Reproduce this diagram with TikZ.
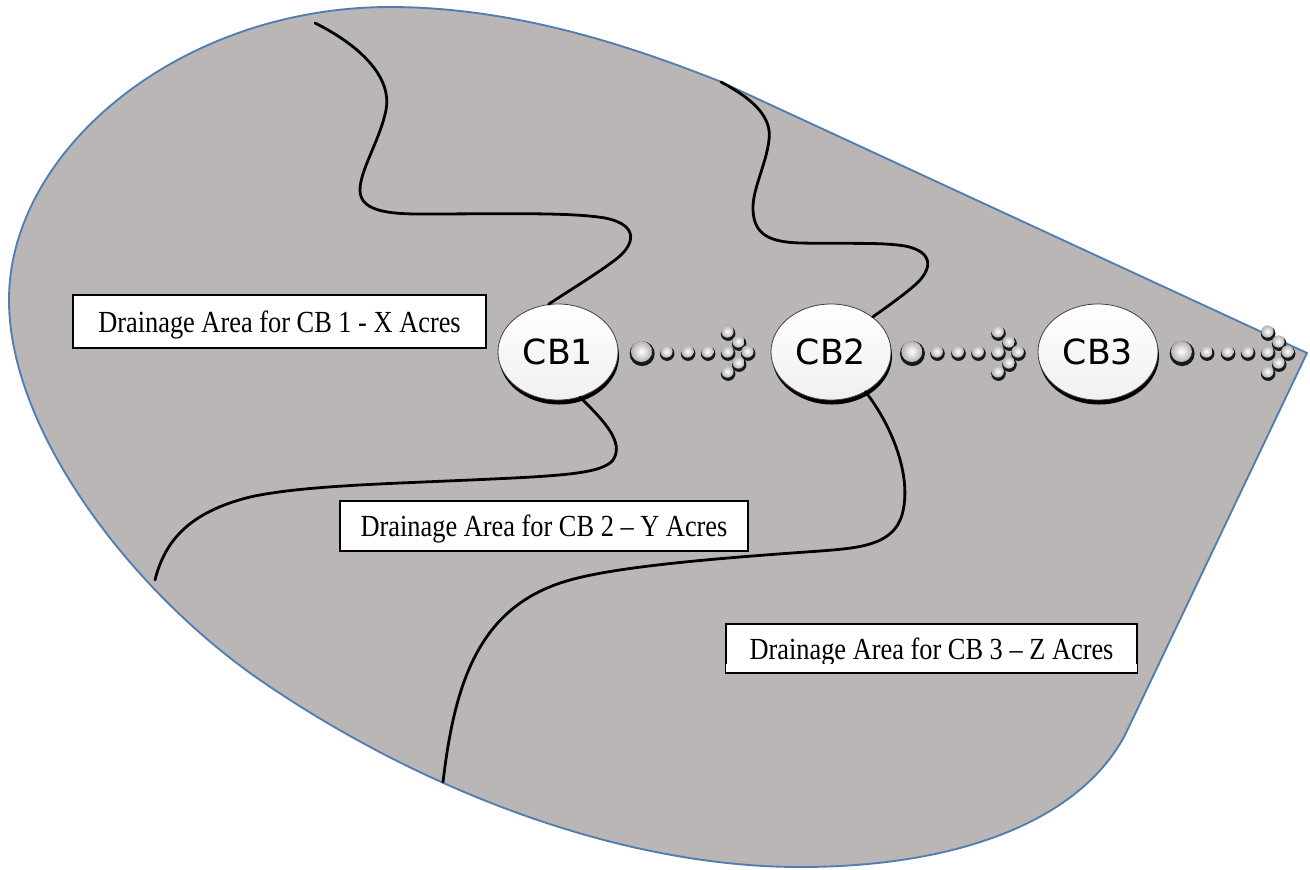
\documentclass[tikz,border=0pt]{standalone}
\usepackage{fontspec}
\setmainfont{Liberation Serif}
\newfontfamily\labfont[FakeStretch=0.86]{Liberation Serif}
\newfontfamily\cbfont{DejaVu Sans}
\usetikzlibrary{shapes.geometric}
\definecolor{areafill}{RGB}{186,182,181}
\definecolor{areaedge}{RGB}{80,126,176}
\newcommand\ballat[3]{%
  \fill[black!90] (#1+0.4,#2+1.6) circle[radius=#3];
  \shade[inner color=white,outer color=black!30] (#1-0.3,#2-0.5) circle[radius=0.84*#3];}
\tikzset{
  area/.style={fill=areafill,draw=areaedge,line width=1.4pt,line join=round},
  divide/.style={draw=black,line width=2.1pt,line cap=round},
  labelbox/.style={draw=black,line width=1.3pt,fill=white,inner sep=0pt,
     font=\labfont\fontsize{23}{27}\selectfont,text height=16pt,text depth=0pt},
  cb/.style={ellipse,minimum width=90pt,minimum height=72pt,inner sep=0pt,
     draw=black!75,line width=0.6pt,top color=white,bottom color=black!6,
     font=\cbfont\fontsize{26}{30}\selectfont},
  cbshadow/.style={fill=black},
  dotarrow/.pic={
    \ballat{0}{0}{12.5}
    \foreach \dx in {25,46,66,86} {\ballat{\dx}{0}{7.3}}
    \foreach \dx/\dy in {86/-20,97/-10,106/0,97/11,86/20} {\ballat{\dx}{\dy}{7.3}}
  }
}
\begin{document}
\begin{tikzpicture}[x=0.75pt,y=-0.75pt]
\useasboundingbox (0,0) rectangle (1310,869);
\fill[white] (0,0) rectangle (1310,869);
% drainage area outline
\path[area] (719,81) -- (1307,353) -- (1125,735)
  .. controls (1080,820) and (960,867) .. (800,867)
  .. controls (620,867) and (420,790) .. (260,680)
  .. controls (130,590) and (9,430) .. (9,300)
  .. controls (9,150) and (180,7) .. (390,7)
  .. controls (520,7) and (640,50) .. (719,81) -- cycle;
% catch basins
\coordinate (c1) at (558,352);
\coordinate (c2) at (831,352);
\coordinate (c3) at (1098,352);
\fill[cbshadow] ([shift={(1,4)}]c1) ellipse [x radius=60, y radius=48.5];
\fill[cbshadow] ([shift={(1,4)}]c2) ellipse [x radius=60, y radius=48.5];
\fill[cbshadow] ([shift={(1,4)}]c3) ellipse [x radius=60, y radius=48.5];
\node[cb] (cb1) at (c1) {CB1};
\node[cb] (cb2) at (c2) {CB2};
\node[cb] (cb3) at (c3) {CB3};
% flow arrows
\pic at ([xshift=17.5pt]cb1.east) {dotarrow};
\pic at ([xshift=15.5pt]cb2.east) {dotarrow};
\pic at ([xshift=17.5pt]cb3.east) {dotarrow};
% divides
\coordinate (t1) at (315,23);
\coordinate (t2) at (721,82);
\coordinate (b1) at (155,580);
\coordinate (b2) at (443,782);
\draw[divide] (t1) .. controls (365,48) and (392,80) .. (386,110) .. controls (380,140) and (360,170) .. (360,190) .. controls (360,210) and (385,214) .. (420,214) .. controls (500,214) and (570,212) .. (605,218) .. controls (640,225) and (635,245) .. (615,260) .. controls (595,275) and (570,290) .. (cb1.101);
\draw[divide] (t2) .. controls (755,100) and (772,118) .. (769,140) .. controls (766,165) and (752,190) .. (753,210) .. controls (754,235) and (770,242) .. (800,243) .. controls (850,244) and (880,242) .. (905,246) .. controls (935,252) and (932,270) .. (915,285) .. controls (900,298) and (885,308) .. (cb2.40);
\draw[divide] (cb1.-64) .. controls (603,420) and (625,442) .. (613,460) .. controls (602,474) and (560,476) .. (470,480) .. controls (380,484) and (300,486) .. (250,497) .. controls (190,512) and (165,540) .. (b1);
\draw[divide] (cb2.-49) .. controls (895,430) and (912,480) .. (902,515) .. controls (893,545) and (860,548) .. (820,551) .. controls (720,558) and (620,566) .. (570,580) .. controls (480,605) and (455,680) .. (b2);
% labels
\node[labelbox,minimum width=309.75pt,minimum height=39.75pt] (l1) at (279.5,321.5) {Drainage Area for CB 1 - X Acres};
\node[labelbox,minimum width=306pt,minimum height=37.5pt] (l2) at (544,526) {Drainage Area for CB 2 – Y Acres};
\node[labelbox,minimum width=308.25pt,minimum height=36.75pt] (l3) at (931.5,648.5) {Drainage Area for CB 3 – Z Acres};
\fill[white] ([shift={(1.2,-1.4)}]l3.south west) rectangle ([shift={(-1.2,-10)}]l3.south east);
\end{tikzpicture}
\end{document}
